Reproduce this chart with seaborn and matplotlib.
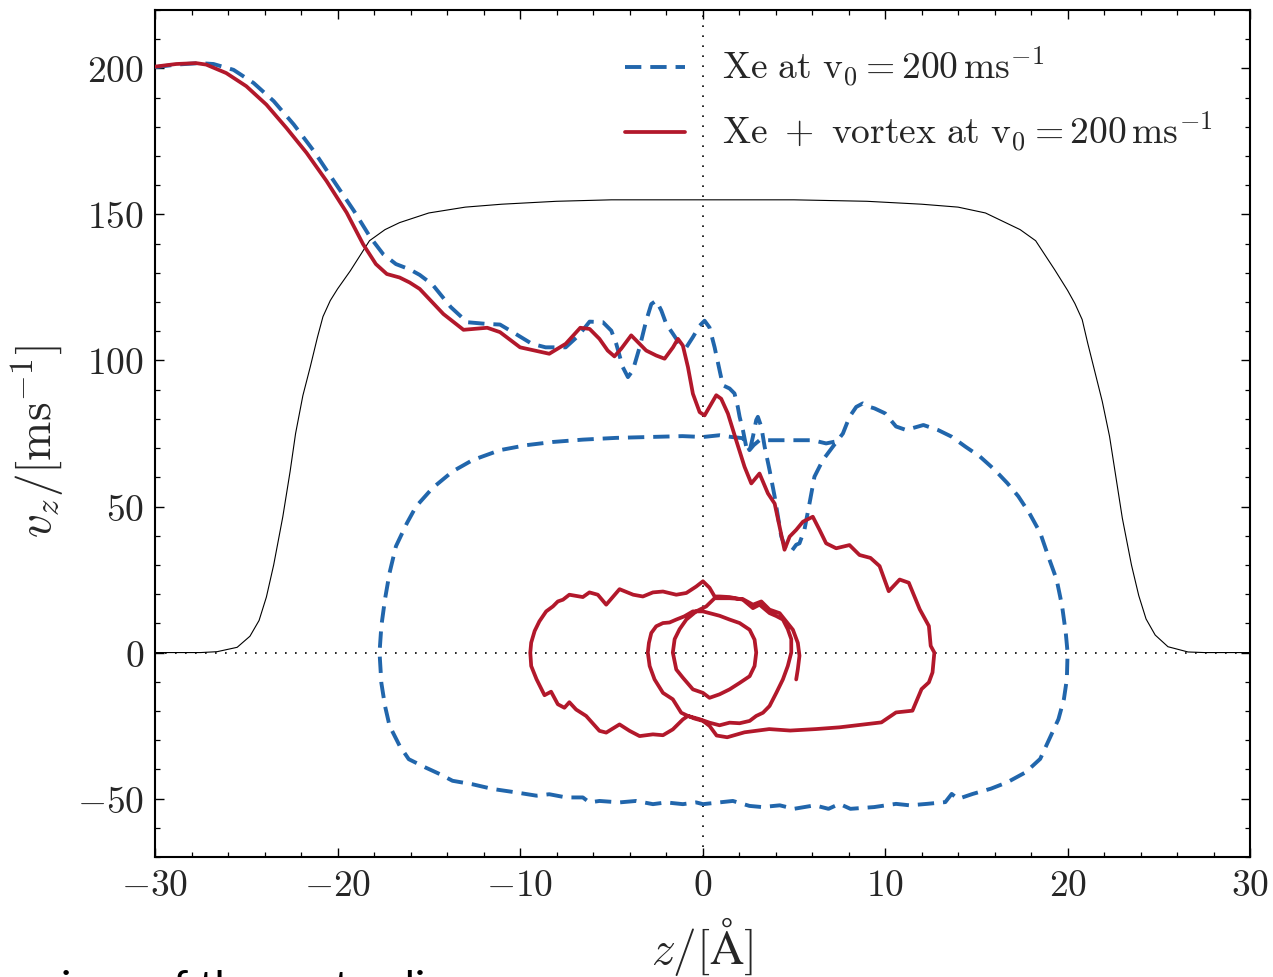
import matplotlib
matplotlib.use("Agg")
import matplotlib.pyplot as plt
import matplotlib.ticker as mticker
import seaborn as sns
import pandas as pd

# ---------------- data ----------------
xe_z = [-30.0, -28.84, -27.56, -26.8, -25.7, -24.6, -23.5, -22.4, -21.3, -20.2, -19.1, -18.2, -17.5, -16.8,
        -16.05, -15.5, -14.8, -13.8, -12.9, -11.8, -11.1, -10.4, -9.35, -8.6, -7.5, -6.8, -6.19, -5.46, -5.0,
        -4.73, -4.37, -4.09, -3.82, -3.45, -3.09, -2.81, -2.54, -2.26, -1.99, -1.62, -1.26, -0.89, -0.53, -0.16,
        0.11, 0.38, 0.66, 0.93, 1.11, 1.48, 1.75, 1.93, 2.03, 2.21, 2.39, 2.57, 2.76, 2.94, 3.03, 3.22, 3.4,
        3.67, 3.95, 4.13, 4.31, 4.58, 4.86, 5.13, 5.31, 5.58, 5.86, 6.13, 6.59, 7.14, 7.69, 8.05, 8.42, 8.78,
        9.15, 9.42, 10.0, 10.6, 11.15, 12.1, 12.9, 13.65, 14.4, 15.2, 16.0, 16.7, 17.3, 17.9, 18.5, 19.0, 19.4,
        19.7, 19.9, 20.0, 19.96, 19.8, 19.5, 19.0, 18.5, 17.7, 16.7, 15.8, 14.8, 14.0, 13.65, 13.3, 12.3, 11.35,
        10.6, 9.4, 8.1, 7.5, 6.9, 6.15, 5.0, 4.23, 3.27, 2.57, 1.66, 0.93, 0.02, -0.35, -1.08, -2.0, -2.72,
        -3.64, -4.55, -5.65, -6.2, -6.56, -7.48, -8.4, -9.1, -10.2, -11.5, -12.6, -13.7, -14.4, -15.2, -16.1,
        -16.6, -17.15, -17.4, -17.6, -17.7, -17.6, -17.4, -17.15, -16.8, -16.2, -15.7, -14.8, -13.7, -12.6,
        -11.1, -9.66, -8.2, -6.56, -4.74, -2.9, -1.1, 0.02, 0.93, 1.6, 2.2, 2.39, 2.57, 2.8, 3.12, 4.03, 5.13,
        6.04, 6.77, 7.23]
xe_v = [200.4, 201.3, 201.8, 201.5, 199.5, 195.0, 188.8, 180.8, 171.7, 161.4, 151.2, 142.1, 136.4, 133.0,
        131.2, 129.3, 126.0, 118.3, 113.1, 112.5, 112.3, 109.7, 105.7, 104.5, 104.5, 108.5, 113.3, 113.1, 110.2,
        105.7, 97.7, 94.3, 96.6, 104.5, 113.6, 119.3, 120.5, 117.1, 112.5, 109.1, 105.7, 104.5, 108.0, 111.9,
        113.6, 111.3, 104.5, 96.6, 91.5, 90.4, 88.7, 84.1, 80.7, 76.2, 70.5, 68.8, 73.9, 79.6, 80.7, 77.3, 70.5,
        62.5, 53.4, 46.6, 39.8, 35.2, 34.6, 36.9, 37.4, 42.0, 51.1, 60.2, 65.9, 70.5, 75.0, 80.7, 84.1, 85.3,
        84.1, 83.6, 81.9, 77.4, 76.2, 77.9, 76.2, 73.9, 70.5, 67.1, 62.6, 58.0, 53.5, 47.8, 41.0, 31.9, 25.0,
        15.9, 6.8, 0.0, -9.1, -15.9, -22.8, -29.6, -36.4, -41.0, -44.4, -46.6, -48.4, -50.1, -48.4, -51.2, -51.8,
        -52.3, -51.8, -52.9, -53.5, -51.8, -53.5, -52.3, -53.5, -52.3, -52.9, -52.5, -50.8, -51.3, -51.9, -51.3,
        -51.9, -51.3, -51.9, -50.8, -51.3, -50.8, -51.3, -49.6, -49.6, -48.5, -49.0, -47.9, -46.7, -45.1, -43.9,
        -41.6, -39.3, -36.5, -31.9, -25.1, -18.3, -10.4, 0.0, 9.1, 18.3, 27.3, 36.4, 44.3, 50.0, 56.3, 62.0,
        65.9, 69.3, 71.0, 72.1, 72.9, 73.5, 73.8, 74.1, 73.8, 74.4, 73.8, 73.4, 71.6, 69.3, 71.0, 72.7, 72.7,
        72.7, 72.7, 71.6, 72.2]

vx_z = [-30.0, -28.84, -27.75, -27.2, -26.1, -25.0, -23.9, -22.8, -21.7, -20.6, -19.5, -18.6, -17.9, -17.3,
        -16.6, -16.05, -15.5, -14.2, -13.1, -11.8, -11.1, -10.0, -8.4, -7.5, -6.7, -6.19, -5.65, -5.2, -4.83,
        -4.46, -3.91, -3.45, -3.09, -2.54, -2.08, -1.62, -1.35, -1.08, -0.8, -0.53, -0.16, 0.11, 0.38, 0.75,
        1.02, 1.39, 1.84, 2.3, 2.67, 3.12, 3.58, 3.95, 4.22, 4.49, 4.77, 5.13, 5.5, 6.04, 6.41, 6.77, 7.32,
        8.05, 8.6, 9.2, 9.7, 10.2, 10.8, 11.3, 11.9, 12.4, 12.5, 12.7, 12.6, 12.4, 12.0, 11.5, 10.6, 9.8, 9.0,
        7.5, 6.2, 4.8, 3.65, 2.3, 1.35, 0.77, 0.38, 0.02, -0.44, -0.8, -1.08, -1.63, -2.17, -2.72, -3.45,
        -4.0, -4.55, -5.28, -5.65, -6.38, -6.93, -7.3, -7.57, -7.93, -8.3, -8.66, -9.1, -9.39, -9.44, -9.39,
        -9.2, -8.94, -8.57, -8.2, -7.93, -7.65, -7.3, -6.93, -6.56, -6.2, -5.74, -5.28, -4.55, -3.8, -3.27,
        -2.72, -2.17, -1.44, -0.89, -0.35, 0.02, 0.38, 0.66, 0.93, 1.48, 2.21, 2.76, 3.12, 3.67, 4.04, 4.4,
        4.67, 4.86, 4.86, 4.67, 4.4, 4.04, 3.67, 3.31, 2.94, 2.58, 2.03, 1.48, 0.93, 0.38, -0.17, -0.8, -1.17,
        -1.63, -2.17, -2.63, -2.9, -3.0, -2.94, -2.81, -2.54, -2.17, -1.81, -1.44, -1.0, -0.53, 0.02, 0.38,
        0.93, 1.48, 2.03, 2.58, 2.85, 2.94, 2.85, 2.58, 2.03, 1.48, 0.93, 0.38, 0.02, -0.53, -1.08, -1.44,
        -1.63, -1.53, -1.26, -0.89, -0.35, 0.2, 0.66, 1.48, 2.21, 2.76, 3.22, 3.67, 4.22, 4.58, 4.95, 5.22,
        5.31, 5.22, 5.13]
vx_v = [200.6, 201.5, 201.8, 201.3, 198.4, 193.9, 187.6, 179.6, 171.1, 161.4, 150.6, 139.8, 133.0, 129.6,
        128.4, 126.7, 124.5, 115.9, 110.5, 111.2, 109.7, 104.5, 102.3, 105.7, 111.2, 110.8, 107.4, 103.4, 101.4,
        104.0, 108.6, 105.7, 103.4, 101.7, 100.6, 104.5, 107.4, 105.1, 97.7, 88.6, 82.3, 81.2, 84.1, 88.1,
        86.9, 81.8, 72.7, 63.6, 57.9, 61.3, 54.5, 51.0, 43.1, 35.2, 39.7, 42.0, 44.8, 46.5, 42.0, 37.4, 35.7,
        36.8, 33.4, 32.4, 29.6, 21.0, 25.0, 23.9, 14.8, 9.1, 2.3, 0.0, -6.8, -10.2, -12.5, -19.9, -20.5, -23.9,
        -24.5, -25.6, -26.2, -26.7, -26.2, -27.3, -29.0, -28.4, -25.1, -23.4, -22.6, -21.7, -22.9, -26.3, -28.3,
        -28.0, -28.6, -26.8, -24.6, -27.4, -26.8, -21.7, -19.5, -17.0, -18.9, -17.7, -13.4, -14.6, -9.1, -4.6,
        0.0, 3.4, 7.4, 10.7, 14.1, 15.8, 17.5, 18.1, 19.8, 19.4, 19.0, 20.6, 19.8, 16.4, 21.7, 19.8, 19.2,
        20.6, 20.9, 19.8, 20.4, 22.6, 24.4, 22.2, 19.2, 19.2, 19.0, 18.1, 15.2, 16.4, 13.5, 12.5, 11.3, 8.0,
        4.6, 0.0, -4.6, -9.2, -13.8, -18.3, -20.6, -21.7, -23.4, -24.2, -24.0, -24.9, -24.0, -22.8, -21.7,
        -20.6, -16.0, -13.8, -9.2, -4.6, 0.0, 3.3, 6.7, 9.0, 10.1, 10.3, 11.3, 12.4, 14.1, 14.1, 13.5, 12.6,
        11.3, 10.1, 7.8, 4.4, 0.0, -4.6, -8.1, -10.4, -12.6, -14.3, -15.5, -13.8, -12.6, -8.6, -5.8, 0.0, 4.6,
        8.0, 11.3, 14.1, 15.8, 18.6, 18.6, 18.3, 16.4, 17.5, 14.7, 13.5, 10.7, 7.8, 3.3, -1.1, -5.7, -9.2]

prof_z = [-30.0, -27.5, -26.6, -25.5, -24.8, -24.3, -23.9, -23.5, -23.0, -22.6, -22.3, -21.9, -21.5, -21.1,
          -20.8, -20.4, -20.0, -19.3, -18.25, -17.4, -16.6, -15.0, -13.0, -11.0, -8.0, -5.0, 0.0, 5.0, 9.0,
          12.0, 14.0, 15.5, 16.6, 17.4, 18.25, 19.3, 20.0, 20.4, 20.8, 21.1, 21.5, 21.9, 22.3, 22.6, 23.0,
          23.5, 23.9, 24.3, 24.8, 25.5, 26.6, 27.5, 30.0]
prof_v = [0.0, 0.0, 0.3, 1.8, 5.6, 11.0, 19.0, 30.0, 46.5, 62.0, 75.0, 88.0, 97.7, 108.0,
          115.0, 120.5, 124.5, 130.7, 141.0, 144.8, 147.2, 150.5, 152.5, 153.5, 154.5, 155.0, 155.0, 155.0, 154.5,
          153.5, 152.5, 150.5, 147.2, 144.8, 141.0, 131.0, 124.0, 119.5, 114.0, 106.0, 96.0, 86.0, 74.0, 62.0, 46.0,
          30.0, 19.5, 11.5, 6.0, 2.0, 0.2, 0.0, 0.0]

labels = [r"$\mathrm{Xe\ at\ v_0 = 200\,ms^{-1}}$",
          r"$\mathrm{Xe}\ +\ \mathrm{vortex\ at\ v_0 = 200\,ms^{-1}}$"]
x_ticks = [-30, -20, -10, 0, 10, 20, 30]
y_ticks = [-50, 0, 50, 100, 150, 200]
caption = "versions of the vortex line"

# ---------------- style ----------------
sns.set_style("ticks")
plt.rcParams["mathtext.fontset"] = "cm"
plt.rcParams["font.family"] = ["DejaVu Sans"]

BLUE = "#2166ac"
RED = "#b2182b"

fig = plt.figure(figsize=(12.73, 9.77), dpi=100)
ax = fig.add_axes([0.1218, 0.1228, 0.8602, 0.867])

ax.axhline(0, color="black", lw=1.2, dashes=(1, 5), zorder=1)
ax.axvline(0, color="black", lw=1.2, dashes=(1, 5), zorder=1)

df_prof = pd.DataFrame({"z": prof_z, "v": prof_v})
sns.lineplot(data=df_prof, x="z", y="v", sort=False, estimator=None, color="black", lw=0.8, ax=ax, zorder=2)

df_xe = pd.DataFrame({"z": xe_z, "v": xe_v})
sns.lineplot(data=df_xe, x="z", y="v", sort=False, estimator=None, color=BLUE, lw=2.8, ax=ax, zorder=3)
ax.lines[-1].set_dashes((4.2, 2.3))
ax.lines[-1].set_solid_joinstyle("round")
ax.lines[-1].set_label(labels[0])

df_vx = pd.DataFrame({"z": vx_z, "v": vx_v})
sns.lineplot(data=df_vx, x="z", y="v", sort=False, estimator=None, color=RED, lw=2.7, ax=ax, zorder=4)
ax.lines[-1].set_solid_joinstyle("round")
ax.lines[-1].set_label(labels[1])

ax.set_xlim(-30, 30)
ax.set_ylim(-70, 220)
ax.set_xticks(x_ticks)
ax.set_yticks(y_ticks)
ax.xaxis.set_minor_locator(mticker.MultipleLocator(2))
ax.yaxis.set_minor_locator(mticker.MultipleLocator(10))
fmt = mticker.FuncFormatter(lambda val, pos: r"$%d$" % int(round(val)))
ax.xaxis.set_major_formatter(fmt)
ax.yaxis.set_major_formatter(fmt)
ax.tick_params(which="both", direction="in", top=True, right=True, labelsize=27, color="black")
ax.tick_params(which="major", length=6.5, width=1.0, pad=8)
ax.tick_params(which="minor", length=3.5, width=0.9)
for s in ax.spines.values():
    s.set_linewidth(1.5)
    s.set_color("black")

ax.set_xlabel(r"$z/[\mathrm{\AA}]$", fontsize=34, labelpad=8)
ax.set_ylabel(r"$v_z/[\mathrm{ms}^{-1}]$", fontsize=34)
ax.yaxis.set_label_coords(-0.08, 0.49)

h = [ax.lines[-2], ax.lines[-1]]
ax.legend(handles=h, labels=labels, loc="upper right", frameon=False, fontsize=27,
          handlelength=1.6, handletextpad=1.0, labelspacing=0.55, borderaxespad=0.3,
          bbox_to_anchor=(0.99, 0.99))

fig.text(-0.014, -0.025, caption, fontsize=31, family=["Lato", "DejaVu Sans"],
         ha="left", va="baseline", color="black")

fig.savefig("out.png", dpi=100)
